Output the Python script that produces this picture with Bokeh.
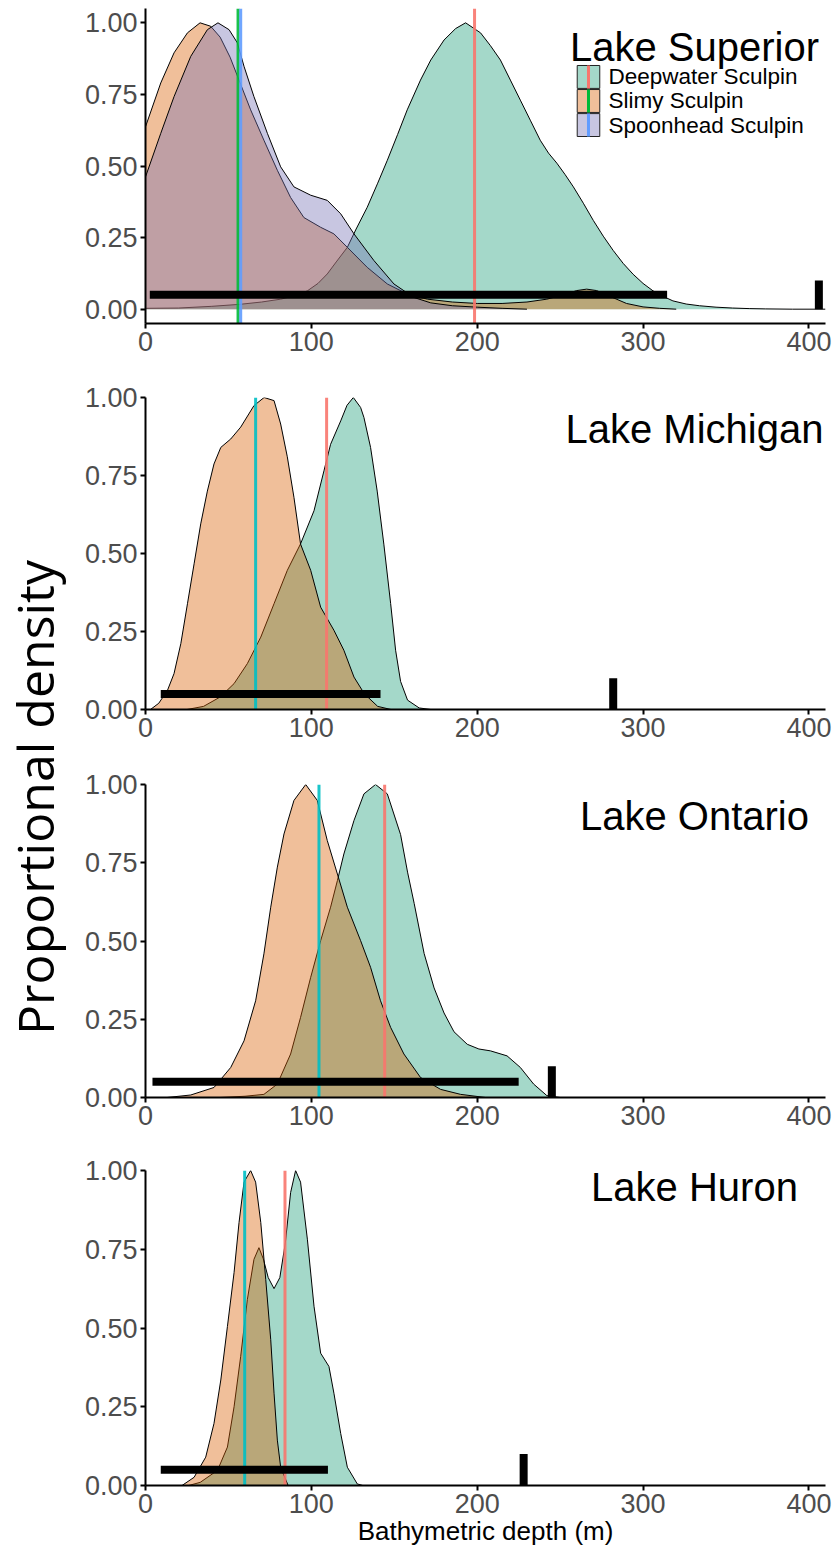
import math
from bokeh.plotting import figure
from bokeh.layouts import column, row
from bokeh.models import Range1d, FixedTicker, NumeralTickFormatter
from bokeh.core.properties import value
from bokeh.embed import file_html
from bokeh.resources import INLINE

# ---------------- data ----------------
lakes = ["Lake Superior", "Lake Michigan", "Lake Ontario", "Lake Huron"]
species = ["Deepwater Sculpin", "Slimy Sculpin", "Spoonhead Sculpin"]

sup_deep_x = [0, 20, 40, 57, 70, 81.5, 90, 97.6, 104, 109.6, 115, 121.7, 127, 133.7, 140, 145.8, 152, 157.8, 165.8,
              172, 180, 187, 193, 202, 208, 214, 220, 226, 232, 238, 243, 248, 253, 258, 264, 270, 276, 282, 288,
              294, 300, 306, 312, 318, 326, 334, 344, 354, 364, 374, 390, 410]
sup_deep_y = [0.003, 0.004, 0.01, 0.017, 0.025, 0.035, 0.047, 0.064, 0.09, 0.123, 0.165, 0.216, 0.28, 0.356, 0.44,
              0.52, 0.61, 0.696, 0.80, 0.87, 0.94, 0.98, 1.0, 0.965, 0.92, 0.87, 0.80, 0.73, 0.66, 0.59, 0.545, 0.51,
              0.47, 0.427, 0.37, 0.31, 0.255, 0.205, 0.16, 0.122, 0.09, 0.064, 0.045, 0.029, 0.018, 0.012, 0.007,
              0.004, 0.002, 0.001, 0.0, 0.0]
sup_slimy_x = [0, 9.2, 17.2, 25.3, 32.9, 39.3, 45, 51, 57.4, 63.4, 71.4, 79.5, 87.5, 95.5, 105.6, 113.6, 121.7,
               133.7, 145.8, 157.8, 170, 185, 200, 215, 230, 242, 252, 260, 266, 272, 280, 290, 300, 310, 320]
sup_slimy_y = [0.637, 0.79, 0.895, 0.965, 1.0, 0.988, 0.95, 0.88, 0.785, 0.696, 0.59, 0.485, 0.39, 0.32, 0.286,
               0.263, 0.216, 0.146, 0.088, 0.053, 0.035, 0.025, 0.02, 0.02, 0.025, 0.035, 0.05, 0.065, 0.07, 0.065,
               0.045, 0.02, 0.008, 0.003, 0.0]
sup_spoon_x = [0, 9.2, 17.2, 27.3, 37.3, 43.7, 50.4, 55.4, 59.4, 65.4, 73.5, 81.5, 89.5, 99.6, 109.6, 117.7, 125.7,
               137.7, 149.8, 161.8, 172, 185, 200, 215, 230]
sup_spoon_y = [0.462, 0.614, 0.742, 0.883, 0.976, 1.0, 0.976, 0.93, 0.848, 0.742, 0.614, 0.497, 0.427, 0.398, 0.38,
               0.333, 0.263, 0.17, 0.088, 0.041, 0.022, 0.012, 0.007, 0.003, 0.0]

mich_deep_x = [25, 35, 45, 53.4, 61.4, 69.5, 77.5, 85.5, 93.5, 101.6, 107.6, 111.6, 117.7, 121.5, 125.3, 129.7,
               131.7, 135.7, 139.7, 143.7, 147.8, 150.8, 153.8, 158, 165, 172]
mich_deep_y = [0.0, 0.01, 0.04, 0.083, 0.147, 0.232, 0.339, 0.446, 0.531, 0.637, 0.765, 0.85, 0.925, 0.975, 1.0,
               0.968, 0.936, 0.84, 0.70, 0.53, 0.34, 0.19, 0.09, 0.03, 0.005, 0.0]
mich_slimy_x = [3, 8, 13.3, 17.2, 21.3, 25.3, 29.3, 33.3, 37.3, 41.3, 45.4, 51.4, 57.4, 65.4, 71.5, 77.5, 81.5, 85.5,
                89.5, 93.5, 99.6, 105.6, 113.6, 119.6, 125.7, 132, 140, 148]
mich_slimy_y = [0.0, 0.02, 0.062, 0.115, 0.211, 0.339, 0.467, 0.595, 0.70, 0.787, 0.84, 0.867, 0.905, 0.974, 1.0,
                0.99, 0.915, 0.81, 0.68, 0.53, 0.446, 0.328, 0.254, 0.19, 0.104, 0.05, 0.01, 0.0]

ont_deep_x = [45, 60, 71.4, 79.5, 87.5, 93.5, 99.6, 105.6, 111.6, 115.7, 119.6, 125.7, 131.7, 138.7, 145.8, 153.8,
              158, 162, 168, 174, 180, 186, 194, 201, 208, 218, 226, 234, 242, 250]
ont_deep_y = [0.0, 0.004, 0.01, 0.043, 0.139, 0.256, 0.384, 0.501, 0.608, 0.693, 0.778, 0.885, 0.97, 1.0, 0.97,
              0.84, 0.72, 0.62, 0.46, 0.35, 0.27, 0.21, 0.17, 0.155, 0.149, 0.133, 0.096, 0.043, 0.006, 0.0]
ont_slimy_x = [13, 27.3, 41.3, 51.4, 59.4, 66.4, 71.4, 75.5, 79.5, 83.5, 89.5, 96.6, 103.6, 109.6, 115.7, 121.7,
               129.7, 135.7, 141.7, 147.8, 155.8, 165.8, 177.9, 190, 205]
ont_slimy_y = [0.0, 0.008, 0.032, 0.096, 0.181, 0.309, 0.459, 0.608, 0.736, 0.842, 0.949, 1.0, 0.949, 0.821, 0.714,
               0.608, 0.501, 0.416, 0.309, 0.224, 0.139, 0.064, 0.026, 0.01, 0.0]

hur_deep_x = [26, 33, 43.4, 49.4, 53.4, 57.4, 61.4, 65.4, 68.4, 71, 74, 77.5, 81, 84.3, 87.5, 90.5, 93.5, 97.6,
              101.6, 105.6, 110.6, 113.6, 117.7, 121.7, 127.7, 131]
hur_deep_y = [0.0, 0.01, 0.048, 0.122, 0.25, 0.41, 0.59, 0.718, 0.755, 0.72, 0.66, 0.625, 0.66, 0.77, 0.93, 1.0,
              0.963, 0.782, 0.569, 0.42, 0.378, 0.293, 0.165, 0.058, 0.005, 0.0]
hur_slimy_x = [22, 29.3, 36.3, 41.3, 45.4, 49.4, 53.4, 56.4, 59.4, 63.4, 66.4, 69.5, 72.5, 75.5, 77.5, 79.5, 81.5, 86]
hur_slimy_y = [0.0, 0.026, 0.09, 0.197, 0.335, 0.505, 0.676, 0.835, 0.963, 1.0, 0.963, 0.835, 0.654, 0.463, 0.293,
               0.144, 0.058, 0.0]

# medians (vertical lines), per lake, in species order
sup_medians = [198.4, 55.8, 57.4]
mich_medians = [109.2, 66.4]
ont_medians = [144.2, 104.6]
hur_medians = [84.1, 59.8]

# depth range sampled (black horizontal bar) and maximum lake depth (black tick)
range_min = [2.6, 9.2, 4.2, 9.2]
range_max = [314.5, 141.7, 225.0, 110.0]
max_depth = [406.0, 282.0, 245.0, 228.0]
range_bar_level = 0.05
max_tick_height = 0.1

x_ticks = [0, 100, 200, 300, 400]
y_ticks = [0, 0.25, 0.5, 0.75, 1.0]

# ---------------- styles ----------------
FILL = ["#1B9E77", "#D95F02", "#7570B3"]
MED3 = ["#F8766D", "#00BA38", "#619CFF"]
MED2 = ["#F8766D", "#00BFC4"]
ARIAL = value("Liberation Sans")


def panel(curves, medians, med_colors, idx, ylo, yhi, height, top, bottom, title, title_y, xlabel=None):
    p = figure(width=769, height=height, x_range=Range1d(0, 410), y_range=Range1d(ylo, yhi),
               output_backend="svg", toolbar_location=None,
               min_border_left=77, min_border_right=12, min_border_top=top, min_border_bottom=bottom)
    p.grid.visible = False
    p.outline_line_color = None
    p.background_fill_color = "white"
    p.border_fill_color = "white"

    for k, (xs, ys) in enumerate(curves):
        p.varea(x=xs, y1=[0] * len(xs), y2=ys, fill_color=FILL[k], fill_alpha=0.4)
        p.line(xs, ys, line_color="black", line_width=1)

    for k, m in enumerate(medians):
        p.segment(x0=[m], y0=[ylo], x1=[m], y1=[yhi], line_color=med_colors[k], line_width=3, line_alpha=0.9)

    p.segment(x0=[range_min[idx]], y0=[range_bar_level], x1=[range_max[idx]], y1=[range_bar_level],
              line_color="black", line_width=8, line_cap="butt")
    p.segment(x0=[max_depth[idx]], y0=[0], x1=[max_depth[idx]], y1=[max_tick_height],
              line_color="black", line_width=8, line_cap="butt")

    p.text(x=[331], y=[title_y], text=[title], text_font=ARIAL, text_font_size="40px",
           text_color="black", text_align="center", text_baseline="middle")

    p.xaxis.ticker = FixedTicker(ticks=x_ticks)
    p.yaxis.ticker = FixedTicker(ticks=y_ticks)
    p.yaxis.formatter = NumeralTickFormatter(format="0.00")
    for ax in (p.xaxis[0], p.yaxis[0]):
        ax.axis_line_color = "black"
        ax.axis_line_width = 2
        ax.major_tick_line_color = "black"
        ax.major_tick_line_width = 2
        ax.major_tick_out = 5
        ax.major_tick_in = 0
        ax.minor_tick_line_color = None
        ax.major_label_text_font = "Liberation Sans"
        ax.major_label_text_font_size = "27px"
        ax.major_label_text_color = "#4D4D4D"
        ax.major_label_standoff = 3
    if xlabel:
        p.xaxis.axis_label = xlabel
        p.xaxis.axis_label_text_font = "Liberation Sans"
        p.xaxis.axis_label_text_font_size = "26px"
        p.xaxis.axis_label_text_font_style = "normal"
        p.xaxis.axis_label_text_color = "black"
        p.xaxis.axis_label_standoff = 0
    return p


p1 = panel([(sup_deep_x, sup_deep_y), (sup_slimy_x, sup_slimy_y), (sup_spoon_x, sup_spoon_y)],
           sup_medians, MED3, 0, -0.05, 1.05, 365, 8, 42, lakes[0], 0.917)
p2 = panel([(mich_deep_x, mich_deep_y), (mich_slimy_x, mich_slimy_y)],
           mich_medians, MED2, 1, 0, 1, 386, 32, 42, lakes[1], 0.9)
p3 = panel([(ont_deep_x, ont_deep_y), (ont_slimy_x, ont_slimy_y)],
           ont_medians, MED2, 2, 0, 1, 388, 33, 42, lakes[2], 0.9)
p4 = panel([(hur_deep_x, hur_deep_y), (hur_slimy_x, hur_slimy_y)],
           hur_medians, MED2, 3, 0, 1, 414, 31, 68, lakes[3], 0.948, xlabel="Bathymetric depth (m)")

# legend inside the Lake Superior panel
key_left, key_right, key_mid, text_x = 260.3, 273.9, 267.1, 279.2
key_bottoms = [0.771, 0.687, 0.603]
key_tops = [0.851, 0.767, 0.683]
p1.quad(left=[key_left] * 3, right=[key_right] * 3, bottom=key_bottoms, top=key_tops,
        fill_color=FILL, fill_alpha=0.4, line_color="#222222", line_width=1)
p1.segment(x0=[key_mid] * 3, y0=key_bottoms, x1=[key_mid] * 3, y1=key_tops, line_color=MED3, line_width=3)
p1.text(x=[text_x] * 3, y=[(b + t) / 2 for b, t in zip(key_bottoms, key_tops)], text=species,
        text_font=ARIAL, text_font_size="22.5px", text_color="black", text_align="left", text_baseline="middle")

# shared y-axis title
lab = figure(width=68, height=1553, x_range=Range1d(0, 68), y_range=Range1d(0, 1553),
             x_axis_type=None, y_axis_type=None, output_backend="svg", toolbar_location=None,
             min_border=0)
lab.grid.visible = False
lab.outline_line_color = None
lab.text(x=[34], y=[756], text=["Proportional density"], angle=math.pi / 2,
         text_font=value("Open Sans"), text_font_size="50px", text_color="black",
         text_align="center", text_baseline="middle")

layout = row(lab, column(p1, p2, p3, p4))
open("out.html", "w").write(file_html(layout, INLINE))
